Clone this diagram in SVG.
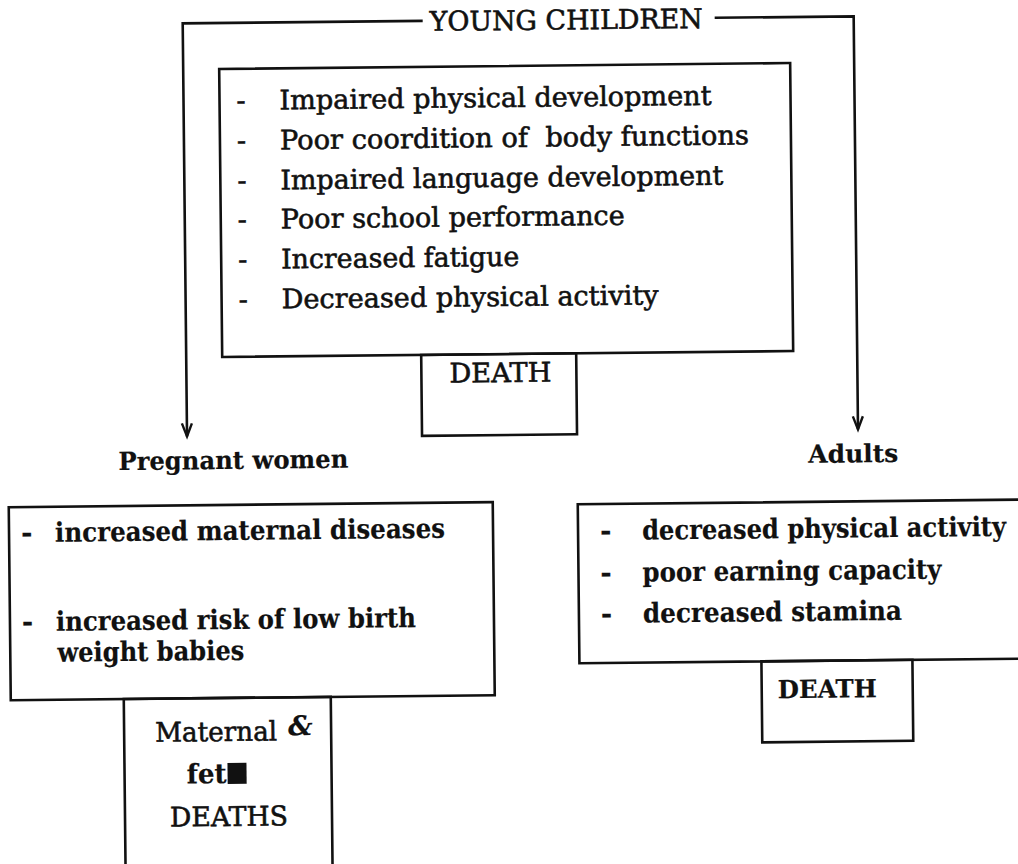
<svg xmlns="http://www.w3.org/2000/svg" width="1018" height="864" viewBox="0 0 1018 864">
<defs>
<style>
.box{fill:none;stroke:#111;stroke-width:2.6}
.ln{fill:none;stroke:#111;stroke-width:2.6}
.t{font-family:"DejaVu Serif","Liberation Serif",serif;fill:#111;font-size:27px;stroke:#111;stroke-width:0.6}
.b{font-weight:bold;stroke-width:0.2}
.m{font-size:25px}
</style>
<marker id="arr" markerUnits="userSpaceOnUse" markerWidth="20" markerHeight="20" refX="0" refY="0" orient="auto" overflow="visible">
<path d="M-13,-5 L0,0 L-13,5" fill="none" stroke="#111" stroke-width="2.4"/>
</marker>
</defs>
<rect x="0" y="0" width="1018" height="864" fill="#fff"/>
<g transform="rotate(-0.6 509 432)">
<g id="connectors">
<path class="ln" d="M427,20 H187 V433" marker-end="url(#arr)"/>
<path class="ln" d="M719,20 H858 V433" marker-end="url(#arr)"/>
</g>
<g id="young-children">
<text class="t" x="434" y="30" textLength="273" lengthAdjust="spacingAndGlyphs">YOUNG CHILDREN</text>
</g>
<g id="children-effects">
<rect class="box" x="223" y="66" width="571" height="288"/>
<text class="t" x="240" y="107">-</text>
<text class="t" x="240" y="147">-</text>
<text class="t" x="240" y="187">-</text>
<text class="t" x="240" y="226">-</text>
<text class="t" x="240" y="266">-</text>
<text class="t" x="240" y="306">-</text>
<text class="t" x="283" y="107" textLength="432" lengthAdjust="spacingAndGlyphs">Impaired physical development</text>
<text class="t" x="283" y="147" textLength="469" lengthAdjust="spacingAndGlyphs" style="white-space:pre">Poor coordition of  body functions</text>
<text class="t" x="283" y="187" textLength="443" lengthAdjust="spacingAndGlyphs">Impaired language development</text>
<text class="t" x="283" y="226" textLength="344" lengthAdjust="spacingAndGlyphs">Poor school performance</text>
<text class="t" x="283" y="266" textLength="238" lengthAdjust="spacingAndGlyphs">Increased fatigue</text>
<text class="t" x="283" y="306" textLength="377" lengthAdjust="spacingAndGlyphs">Decreased physical activity</text>
</g>
<g id="children-death">
<rect class="box" x="422" y="354" width="155" height="81"/>
<text class="t" x="450" y="382" textLength="102" lengthAdjust="spacingAndGlyphs">DEATH</text>
</g>
<g id="pregnant-women">
<text class="t b m" x="118" y="466" textLength="230" lengthAdjust="spacingAndGlyphs">Pregnant women</text>
</g>
<g id="pregnant-effects">
<rect class="box" x="8" y="502" width="484" height="193"/>
<text class="t b" x="20" y="537">-</text>
<text class="t b" x="20" y="626">-</text>
<text class="t b" x="54" y="537" textLength="390" lengthAdjust="spacingAndGlyphs">increased maternal diseases</text>
<text class="t b" x="54" y="626" textLength="360" lengthAdjust="spacingAndGlyphs">increased risk of low birth</text>
<text class="t b" x="55" y="657" textLength="187" lengthAdjust="spacingAndGlyphs">weight babies</text>
</g>
<g id="maternal-deaths">
<rect class="box" x="121" y="695" width="207" height="230"/>
<text class="t" x="152" y="738" textLength="122" lengthAdjust="spacingAndGlyphs">Maternal</text>
<text class="t b" x="285" y="733" font-size="15" font-style="italic">&amp;</text>
<text class="t b" x="183" y="780" textLength="40" lengthAdjust="spacingAndGlyphs">fet</text>
<rect x="224" y="760" width="19" height="21" fill="#111"/>
<text class="t" x="166" y="823" textLength="118" lengthAdjust="spacingAndGlyphs">DEATHS</text>
</g>
<g id="adults">
<text class="t b m" x="808" y="466" textLength="90" lengthAdjust="spacingAndGlyphs">Adults</text>
</g>
<g id="adult-effects">
<rect class="box" x="577" y="505" width="470" height="159"/>
<text class="t b" x="599" y="541">-</text>
<text class="t b" x="599" y="583">-</text>
<text class="t b" x="599" y="624">-</text>
<text class="t b" x="641" y="541" textLength="364" lengthAdjust="spacingAndGlyphs">decreased physical activity</text>
<text class="t b" x="641" y="583" textLength="299" lengthAdjust="spacingAndGlyphs">poor earning capacity</text>
<text class="t b" x="641" y="624" textLength="259" lengthAdjust="spacingAndGlyphs">decreased stamina</text>
</g>
<g id="adult-death">
<rect class="box" x="759" y="664" width="151" height="81"/>
<text class="t b m" x="775" y="701" textLength="99" lengthAdjust="spacingAndGlyphs">DEATH</text>
</g>
</g>
</svg>
